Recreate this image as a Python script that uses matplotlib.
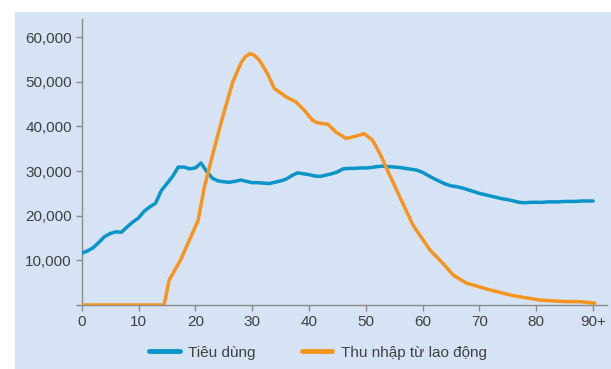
import matplotlib
matplotlib.use("Agg")
import matplotlib.pyplot as plt
from matplotlib.patches import Rectangle
from matplotlib.ticker import FixedLocator, FuncFormatter

plt.rcParams['font.family'] = ['Liberation Sans', 'DejaVu Sans']

# Consumption by single year of age (0 .. 90+)
ages = list(range(0, 91))
consumption = [
    11600, 12100, 12800, 14000, 15300, 16000, 16400, 16300, 17500, 18600,
    19500, 21000, 22000, 22800, 25600, 27200, 28800, 30900, 30900, 30500,
    30700, 31800, 29900, 28400, 27800, 27600, 27500, 27700, 28000, 27700,
    27400, 27400, 27300, 27200, 27500, 27800, 28200, 29000, 29600, 29400,
    29200, 28900, 28800, 29100, 29400, 29800, 30500, 30600, 30600, 30700,
    30700, 30800, 31000, 31100, 31000, 30900, 30800, 30600, 30400, 30200,
    29700, 29000, 28300, 27700, 27100, 26700, 26500, 26200, 25800, 25400,
    25000, 24700, 24400, 24100, 23800, 23600, 23300, 23000, 22900, 23000,
    23000, 23000, 23100, 23100, 23100, 23200, 23200, 23200, 23300, 23300,
    23300,
]

# Labour income profile
income_ages = [
    0, 14.5, 15.4, 17.4, 20.5, 21.6, 23.4, 24.8, 26.6, 28.1, 28.8, 29.6,
    30.3, 31.3, 32.7, 33.9, 36.0, 37.7, 39.2, 40.6, 41.5, 43.3, 44.7, 46.5,
    48.2, 49.7, 51.2, 52.6, 53.8, 56.1, 58.3, 61.3, 63.3, 65.4, 67.7, 71.8,
    75.9, 80.6, 85.3, 87.7, 90.3,
]
labour_income = [
    0, 0, 5600, 10100, 19000, 26500, 35400, 42100, 50000, 54400, 55600, 56300,
    56000, 54800, 51800, 48500, 46600, 45500, 43600, 41400, 40800, 40500, 38800, 37300,
    37800, 38400, 36900, 33600, 30200, 23900, 17900, 12300, 9700, 6700, 4900, 3400,
    2100, 1100, 750, 750, 400,
]

x_ticks = [0, 10, 20, 30, 40, 50, 60, 70, 80, 90]
x_labels = ['0', '10', '20', '30', '40', '50', '60', '70', '80', '90+']
y_ticks = [0, 10000, 20000, 30000, 40000, 50000, 60000]

series_names = ['Tiêu dùng', 'Thu nhập từ lao động']
blue = '#0995c9'
orange = '#f7941d'
panel = '#d5e3f5'
text_col = '#404040'
axis_col = '#8c8c8c'

W, H = 611, 369
fig = plt.figure(figsize=(W / 100, H / 100), dpi=100)
fig.patch.set_facecolor('white')
fig.patches.append(Rectangle((15 / W, 0), 1 - 15 / W, 1 - 12 / H,
                             transform=fig.transFigure, facecolor=panel,
                             edgecolor='none', zorder=-10))

left, right = 81.7, 606.7
bottom, top = 305, 19.3
ax = fig.add_axes([left / W, 1 - bottom / H, (right - left) / W, (bottom - top) / H])
ax.set_facecolor('none')
ax.set_zorder(5)

ax.plot(ages, consumption, color=blue, lw=2.5, solid_joinstyle='round',
        solid_capstyle='round', label=series_names[0], zorder=3)
ax.plot(income_ages, labour_income, color=orange, lw=2.5, solid_joinstyle='round',
        solid_capstyle='round', label=series_names[1], zorder=3)

ax.set_xlim(0, 92.4)
ax.set_ylim(0, 64000)

for s in ['top', 'right']:
    ax.spines[s].set_visible(False)
for s in ['left', 'bottom']:
    ax.spines[s].set_color(axis_col)
    ax.spines[s].set_linewidth(1.0)

ax.xaxis.set_major_locator(FixedLocator(x_ticks))
ax.set_xticklabels(x_labels)
ax.yaxis.set_major_locator(FixedLocator(y_ticks))
ax.yaxis.set_major_formatter(FuncFormatter(lambda v, p: '' if v == 0 else f'{int(v):,}'))

ax.tick_params(axis='both', colors=axis_col, labelcolor=text_col, labelsize=11,
               length=4, width=1, direction='out')
ax.tick_params(axis='x', pad=3)
ax.tick_params(axis='y', pad=3)

handles, labels = ax.get_legend_handles_labels()
leg = fig.legend(handles, labels, loc='center', bbox_to_anchor=(318 / W, 1 - 352.5 / H),
                 ncol=2, frameon=False, fontsize=11, handlelength=2.0,
                 handletextpad=0.55, columnspacing=3.0, labelcolor=text_col)
for line in leg.get_lines():
    line.set_linewidth(3.5)
    line.set_solid_capstyle('round')

fig.savefig('out.png', dpi=100, facecolor=fig.get_facecolor())
